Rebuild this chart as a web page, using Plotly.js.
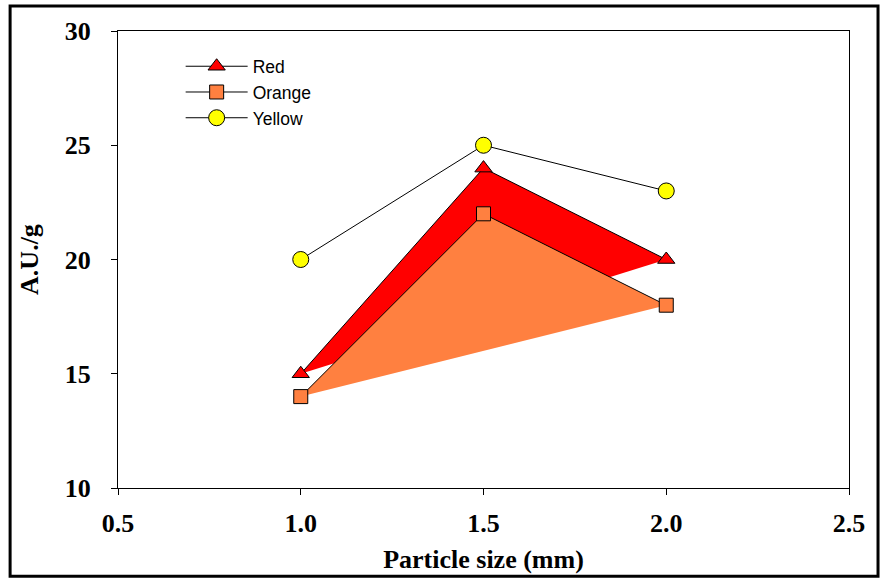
<!DOCTYPE html>
<html><head><meta charset="utf-8">
<script src="https://cdn.plot.ly/plotly-3.0.1.min.js"></script>
<style>html,body{margin:0;padding:0;background:#fff}</style>
</head><body><div id="chart" style="width:883px;height:580px"></div>
<script>
const particleSize = [1.0, 1.5, 2.0];
const redValues = [15, 24, 20];
const orangeValues = [14, 22, 18];
const yellowValues = [20, 25, 23];
const xTicks = [0.5, 1.0, 1.5, 2.0, 2.5];
const xTickLabels = ['0.5', '1.0', '1.5', '2.0', '2.5'];
const yTicks = [10, 15, 20, 25, 30];

const traces = [
  {x: particleSize, y: redValues, mode: 'none', fill: 'toself', fillcolor: '#FF0000', showlegend: false, hoverinfo: 'skip'},
  {x: particleSize, y: orangeValues, mode: 'none', fill: 'toself', fillcolor: '#FF8040', showlegend: false, hoverinfo: 'skip'},
  {x: particleSize, y: redValues, name: 'Red', mode: 'lines+markers', line: {color: '#000', width: 1},
   marker: {symbol: 'triangle-up', size: 15, color: '#FF0000', line: {color: '#000', width: 1}}},
  {x: particleSize, y: orangeValues, name: 'Orange', mode: 'lines+markers', line: {color: '#000', width: 1},
   marker: {symbol: 'square', size: 14, color: '#FF8040', line: {color: '#000', width: 1}}},
  {x: particleSize, y: yellowValues, name: 'Yellow', mode: 'lines+markers', line: {color: '#000', width: 1},
   marker: {symbol: 'circle', size: 16, color: '#FFFF00', line: {color: '#000', width: 1}}}
];

const serif = 'Liberation Serif, Times New Roman, serif';
const tickFont = {family: serif, size: 26, color: '#000', weight: 'bold'};
const layout = {
  width: 883, height: 580,
  margin: {l: 118, r: 34, t: 31, b: 92},
  paper_bgcolor: '#fff', plot_bgcolor: '#fff',
  showlegend: true,
  legend: {x: 0.0857, y: 0.962, xanchor: 'left', yanchor: 'top', bgcolor: 'rgba(0,0,0,0)', itemwidth: 62,
    font: {family: 'Liberation Sans, Arial, sans-serif', size: 17.5, color: '#000'}, tracegroupgap: 0},
  xaxis: {range: [0.5, 2.5], tickvals: xTicks, ticktext: xTickLabels, ticks: 'outside', ticklen: 6, tickcolor: '#000',
    showline: true, linecolor: '#000', linewidth: 1, mirror: true, showgrid: false, zeroline: false,
    tickfont: tickFont, ticklabelstandoff: 6,
    title: {text: '<b>Particle size (mm)</b>', font: {family: serif, size: 26, color: '#000'}, standoff: 12}},
  yaxis: {range: [10, 30], tickvals: yTicks, ticks: 'outside', ticklen: 6, tickcolor: '#000',
    showline: true, linecolor: '#000', linewidth: 1, mirror: true, showgrid: false, zeroline: false,
    tickfont: tickFont, ticklabelstandoff: 15,
    title: {text: '<b>A.U./g</b>', font: {family: serif, size: 26, color: '#000'}, standoff: 18}},
  shapes: [{type: 'rect', xref: 'paper', yref: 'paper', x0: -0.1476, x1: 1.0397, y0: -0.193, y1: 1.0547,
    line: {color: '#000', width: 3}, fillcolor: 'rgba(0,0,0,0)'}]
};
Plotly.newPlot('chart', traces, layout, {displayModeBar: false, staticPlot: true});
</script></body></html>
